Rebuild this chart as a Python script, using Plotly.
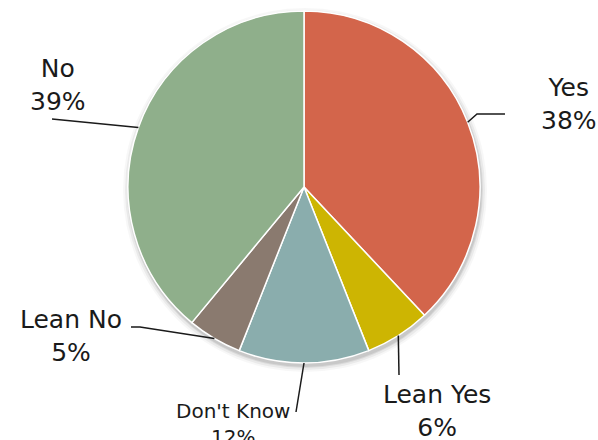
import plotly.graph_objects as go

# Survey responses
labels = ["Yes", "Lean Yes", "Don't Know", "Lean No", "No"]
values = [38, 6, 12, 5, 39]
colors = ["#D3654B", "#CDB502", "#8AADAD", "#8A7A6F", "#8FAF8B"]

W, H = 598, 440
CX, CY, R = 304, 187, 176  # pie centre and radius in pixels

FONT = "DejaVu Sans"


def px_domain(cx, cy, r):
    return dict(x=[(cx - r) / W, (cx + r) / W], y=[1 - (cy + r) / H, 1 - (cy - r) / H])


def to_paper(x, y):
    return x / W, 1 - y / H


fig = go.Figure()

# soft drop shadow under the pie
for dr, alpha in [(6, 0.03), (4, 0.05), (2, 0.07), (1, 0.08)]:
    fig.add_trace(go.Pie(
        values=[1], labels=["shadow"], sort=False,
        marker=dict(colors=[f"rgba(0,0,0,{alpha})"], line=dict(width=0)),
        textinfo="none", hoverinfo="skip", showlegend=False,
        domain=px_domain(CX + 1, CY + 3, R + dr),
    ))

fig.add_trace(go.Pie(
    labels=labels, values=values, sort=False, direction="clockwise", rotation=0,
    marker=dict(colors=colors, line=dict(color="white", width=1.5)),
    textinfo="none", showlegend=False,
    domain=px_domain(CX, CY, R),
))

# label block centres and leader-line bends (pixels)
label_pos = {
    "Yes": (569, 104, 25),
    "Lean Yes": (437, 411, 25),
    "Don't Know": (233, 424, 20),
    "Lean No": (71, 336, 25),
    "No": (58, 85, 25),
}
leader_bends = {
    "Yes": [(477, 114), (505, 114)],
    "Lean Yes": [(399, 375)],
    "Don't Know": [(296, 412)],
    "Lean No": [(140, 327), (131, 327)],
    "No": [(52, 119)],
}

import math

total = sum(values)
cum = 0
shapes = []
annotations = []
for lab, v in zip(labels, values):
    mid = (cum + v / 2) / total * 2 * math.pi
    cum += v
    ex, ey = CX + R * math.sin(mid), CY - R * math.cos(mid)
    pts = [(ex, ey)] + leader_bends[lab]
    path = ""
    for i, (x, y) in enumerate(pts):
        px_, py_ = to_paper(x, y)
        path += ("M" if i == 0 else " L") + f" {px_:.5f},{py_:.5f}"
    shapes.append(dict(type="path", path=path, xref="paper", yref="paper",
                       line=dict(color="#1a1a1a", width=1.5)))
    lx, ly, fs = label_pos[lab]
    ax_, ay_ = to_paper(lx, ly)
    annotations.append(dict(
        text=f"{lab}<br>{v}%", x=ax_, y=ay_, xref="paper", yref="paper",
        xanchor="center", yanchor="middle", showarrow=False, align="center",
        font=dict(family=FONT, size=fs, color="#1a1a1a"),
    ))

fig.update_layout(
    width=W, height=H, margin=dict(l=0, r=0, t=0, b=0),
    paper_bgcolor="white", plot_bgcolor="white",
    shapes=shapes, annotations=annotations,
)

fig.write_html("out.html")
